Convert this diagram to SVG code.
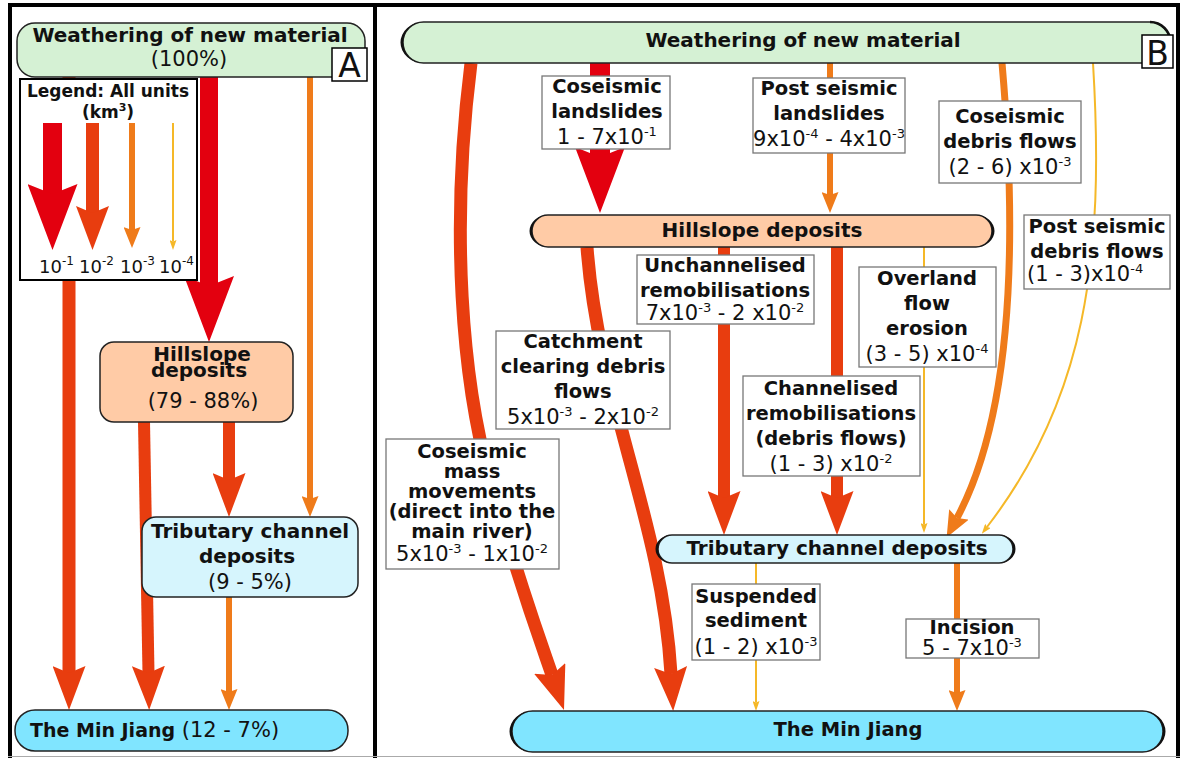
<svg xmlns="http://www.w3.org/2000/svg" width="1188" height="758" viewBox="0 0 1188 758">
<style>
text{font-family:"DejaVu Sans",Verdana,"Liberation Sans",sans-serif;fill:#111}
.b{font-weight:bold;font-size:20px}
.bl{font-weight:bold;font-size:19.5px}
.r{font-size:21px}
.m{text-anchor:middle}
.s{font-size:13px}
.lab{fill:#fff;stroke:#777;stroke-width:1.3}
.nd{stroke:#222;stroke-width:1.5}
.g{fill:#d5f1d4}
.p{fill:#ffcba6}
.t{fill:#d6f5fd}
.c{fill:#80e5ff}
.cr{fill:#111}
.red{stroke:#e3000f;fill:none}
.ro{stroke:#e83d0f;fill:none}
.or{stroke:#ef7b1a;fill:none}
.ye{stroke:#f5b828;fill:none}
.fr{stroke:#000;stroke-width:4;fill:none}
</style>
<defs>
<marker id="mR" markerUnits="userSpaceOnUse" viewBox="0 0 66 50" markerWidth="66" markerHeight="50" refX="10" refY="25" orient="auto"><path d="M0,0 L66,25 L0,50 L10,25Z" fill="#e3000f"/></marker>
<marker id="mRO" markerUnits="userSpaceOnUse" viewBox="0 0 44 33" markerWidth="44" markerHeight="33" refX="7" refY="16.5" orient="auto"><path d="M0,0 L44,16.5 L0,33 L7,16.5Z" fill="#e83d0f"/></marker>
<marker id="mO" markerUnits="userSpaceOnUse" viewBox="0 0 21 17" markerWidth="21" markerHeight="17" refX="3" refY="8.5" orient="auto"><path d="M0,0 L21,8.5 L0,17 L3,8.5Z" fill="#ef7b1a"/></marker>
<marker id="mOT" markerUnits="userSpaceOnUse" viewBox="0 0 26 22" markerWidth="26" markerHeight="22" refX="4" refY="11" orient="auto"><path d="M0,0 L26,11 L0,22 L4,11Z" fill="#ef7b1a"/></marker>
<marker id="mY" markerUnits="userSpaceOnUse" viewBox="0 0 10 7" markerWidth="10" markerHeight="7" refX="1.5" refY="3.5" orient="auto"><path d="M0,0 L10,3.5 L0,7 L1.5,3.5Z" fill="#f5b828"/></marker>
</defs>
<rect width="1188" height="758" fill="#fff"/>

<g id="connectors">
  <!-- Panel A -->
  <path class="red" stroke-width="18" d="M209,77 V286" marker-end="url(#mR)"/>
  <path class="ro" stroke-width="13" d="M69,77 V673" marker-end="url(#mRO)"/>
  <path class="ro" stroke-width="12" d="M144,422 L148.5,673" marker-end="url(#mRO)"/>
  <path class="ro" stroke-width="12" d="M229,422 V480" marker-end="url(#mRO)"/>
  <path class="or" stroke-width="6" d="M310,77 V499" marker-end="url(#mO)"/>
  <path class="or" stroke-width="6" d="M229,597 V692" marker-end="url(#mO)"/>
  <!-- Panel B -->
  <path class="red" stroke-width="20" d="M600,63 V157" marker-end="url(#mR)"/>
  <path class="or" stroke-width="6" d="M830,63 V195" marker-end="url(#mO)"/>
  <path class="or" stroke-width="7" d="M1002,63 C1014,200 1020,400 957,518" marker-end="url(#mOT)"/>
  <path class="ye" stroke-width="2" d="M1093,63 C1105,260 1085,400 987,527" marker-end="url(#mY)"/>
  <path class="ro" stroke-width="13" d="M471,63 C450,230 462,380 490,480 S540,640 552,675" marker-end="url(#mRO)"/>
  <path class="ro" stroke-width="13" d="M587,247 C598,400 662,520 671,674" marker-end="url(#mRO)"/>
  <path class="ro" stroke-width="12" d="M724,247 V498" marker-end="url(#mRO)"/>
  <path class="ro" stroke-width="12" d="M837,247 V498" marker-end="url(#mRO)"/>
  <path class="ye" stroke-width="2" d="M924,247 V524.5" marker-end="url(#mY)"/>
  <path class="ye" stroke-width="2" d="M756,563 V702.5" marker-end="url(#mY)"/>
  <path class="or" stroke-width="6" d="M957,563 V693" marker-end="url(#mO)"/>
</g>

<g id="frame">
  <path class="fr" d="M8,5 H1180"/>
  <path class="fr" d="M10,3 V758"/>
  <path class="fr" d="M375,3 V758"/>
  <path class="fr" d="M1178,3 V758"/>
  <path d="M8,756.5 H1180" stroke="#aaa" stroke-width="1"/>
</g>

<!-- Panel A nodes -->
<g id="a-weathering">
  <rect class="nd g" x="17" y="23" width="348" height="54" rx="18"/>
  <text class="b m" x="190" y="42">Weathering of new material</text>
  <text class="r m" x="189" y="66">(100%)</text>
</g>
<g id="a-label">
  <rect x="332" y="48" width="35" height="33" fill="#fff" stroke="#000" stroke-width="1.5"/>
  <text class="m" x="349.5" y="77" style="font-size:33px">A</text>
</g>
<g id="a-legend">
  <rect x="20" y="79" width="177" height="201" fill="#fff" stroke="#000" stroke-width="2"/>
  <text class="m" x="108" y="97" style="font-weight:bold;font-size:17px">Legend: All units</text>
  <text class="m" x="108" y="118" style="font-weight:bold;font-size:17px">(km<tspan dy="-7" style="font-size:11px">3</tspan><tspan dy="7">)</tspan></text>
  <path class="red" stroke-width="19" d="M52.5,123 V194" marker-end="url(#mR)"/>
  <path class="ro" stroke-width="13" d="M92.5,123 V213" marker-end="url(#mRO)"/>
  <path class="or" stroke-width="6" d="M132,123 V230" marker-end="url(#mO)"/>
  <path class="ye" stroke-width="2" d="M173,123 V241.5" marker-end="url(#mY)"/>
  <text x="39" y="273" style="font-size:18px">10<tspan dy="-8" style="font-size:12px">-1</tspan></text>
  <text x="79" y="273" style="font-size:18px">10<tspan dy="-8" style="font-size:12px">-2</tspan></text>
  <text x="120" y="273" style="font-size:18px">10<tspan dy="-8" style="font-size:12px">-3</tspan></text>
  <text x="159" y="273" style="font-size:18px">10<tspan dy="-8" style="font-size:12px">-4</tspan></text>
</g>
<g id="a-hillslope">
  <rect class="nd p" x="100" y="342" width="193" height="80" rx="14"/>
  <text class="b m" x="202" y="361">Hillslope</text>
  <text class="b m" x="199" y="377">deposits</text>
  <text class="r m" x="203" y="408">(79 - 88%)</text>
</g>
<g id="a-tributary">
  <rect class="nd t" x="142" y="517" width="216" height="80" rx="14"/>
  <text class="b m" x="250" y="538">Tributary channel</text>
  <text class="b m" x="247" y="563">deposits</text>
  <text class="r m" x="250" y="589">(9 - 5%)</text>
</g>
<g id="a-minjiang">
  <rect class="nd c" x="15" y="710" width="333" height="41" rx="20"/>
  <text x="30" y="737"><tspan style="font-weight:bold;font-size:19px">The Min Jiang</tspan><tspan class="r"> (12 - 7%)</tspan></text>
</g>

<!-- Panel B label boxes -->
<g id="b-coseismic-landslides">
  <rect class="lab" x="542" y="76" width="128" height="73"/>
  <text class="bl m" x="607" y="93">Coseismic</text>
  <text class="bl m" x="607" y="118">landslides</text>
  <text class="r m" x="607" y="144">1 - 7x10<tspan class="s" dy="-8">-1</tspan></text>
</g>
<g id="b-post-landslides">
  <rect class="lab" x="753" y="78" width="152" height="75"/>
  <text class="bl m" x="829" y="95">Post seismic</text>
  <text class="bl m" x="829" y="120">landslides</text>
  <text class="r m" x="829" y="146">9x10<tspan class="s" dy="-8">-4</tspan><tspan dy="8"> - 4x10</tspan><tspan class="s" dy="-8">-3</tspan></text>
</g>
<g id="b-coseismic-debris">
  <rect class="lab" x="939" y="101" width="142" height="82"/>
  <text class="bl m" x="1010" y="123">Coseismic</text>
  <text class="bl m" x="1010" y="148">debris flows</text>
  <text class="r m" x="1010" y="174">(2 - 6) x10<tspan class="s" dy="-8">-3</tspan></text>
</g>
<g id="b-post-debris">
  <rect class="lab" x="1024" y="215" width="146" height="74"/>
  <text class="bl m" x="1097" y="233">Post seismic</text>
  <text class="bl m" x="1097" y="258">debris flows</text>
  <text class="r" x="1027" y="281">(1 - 3)x10<tspan class="s" dy="-8">-4</tspan></text>
</g>
<g id="b-unchannelised">
  <rect class="lab" x="637" y="255" width="177" height="69"/>
  <text class="bl m" x="725" y="272">Unchannelised</text>
  <text class="bl m" x="725" y="297">remobilisations</text>
  <text class="r m" x="725" y="320">7x10<tspan class="s" dy="-8">-3</tspan><tspan dy="8"> - 2 x10</tspan><tspan class="s" dy="-8">-2</tspan></text>
</g>
<g id="b-overland">
  <rect class="lab" x="859" y="267" width="137" height="100"/>
  <text class="bl m" x="927" y="285">Overland</text>
  <text class="bl m" x="927" y="310">flow</text>
  <text class="bl m" x="927" y="335">erosion</text>
  <text class="r m" x="927" y="361">(3 - 5) x10<tspan class="s" dy="-8">-4</tspan></text>
</g>
<g id="b-catchment">
  <rect class="lab" x="496" y="331" width="174" height="98"/>
  <text class="bl m" x="583" y="348">Catchment</text>
  <text class="bl m" x="583" y="373">clearing debris</text>
  <text class="bl m" x="583" y="398">flows</text>
  <text class="r m" x="583" y="424">5x10<tspan class="s" dy="-8">-3</tspan><tspan dy="8"> - 2x10</tspan><tspan class="s" dy="-8">-2</tspan></text>
</g>
<g id="b-channelised">
  <rect class="lab" x="743" y="376" width="177" height="100"/>
  <text class="bl m" x="831" y="395">Channelised</text>
  <text class="bl m" x="831" y="420">remobilisations</text>
  <text class="bl m" x="831" y="445">(debris flows)</text>
  <text class="r m" x="831" y="471">(1 - 3) x10<tspan class="s" dy="-8">-2</tspan></text>
</g>
<g id="b-mass-movements">
  <rect class="lab" x="386" y="439" width="173" height="130"/>
  <text class="bl m" x="472" y="458">Coseismic</text>
  <text class="bl m" x="472" y="478">mass</text>
  <text class="bl m" x="472" y="498">movements</text>
  <text class="bl m" x="472" y="518">(direct into the</text>
  <text class="bl m" x="472" y="538">main river)</text>
  <text class="r m" x="472" y="561">5x10<tspan class="s" dy="-8">-3</tspan><tspan dy="8"> - 1x10</tspan><tspan class="s" dy="-8">-2</tspan></text>
</g>
<g id="b-suspended">
  <rect class="lab" x="692" y="584" width="128" height="76"/>
  <text class="bl m" x="756" y="603">Suspended</text>
  <text class="bl m" x="756" y="627">sediment</text>
  <text class="r m" x="756" y="654">(1 - 2) x10<tspan class="s" dy="-8">-3</tspan></text>
</g>
<g id="b-incision">
  <rect class="lab" x="906" y="619" width="133" height="39"/>
  <text class="bl m" x="972" y="634">Incision</text>
  <text class="r m" x="972" y="655">5 - 7x10<tspan class="s" dy="-8">-3</tspan></text>
</g>

<!-- Panel B nodes -->
<g id="b-weathering">
  <rect class="nd g" x="403" y="22" width="767" height="41" rx="20.5"/>
  <path class="cr" d="M423.5,22 A23,20.5 0 0 0 423.5,63 A20.5,20.5 0 0 1 423.5,22Z"/>
  <path d="M1150,22 A20.5,20.5 0 0 1 1170.5,42.5" fill="none" stroke="#111" stroke-width="2.5"/>
  <text class="b m" x="803" y="47">Weathering of new material</text>
</g>
<g id="b-label">
  <rect x="1142" y="35" width="31" height="33" fill="#fff" stroke="#000" stroke-width="1.5"/>
  <text class="m" x="1157.5" y="65" style="font-size:33px">B</text>
</g>
<g id="b-hillslope">
  <rect class="nd p" x="532" y="215" width="460" height="32" rx="16"/>
  <path class="cr" d="M548,215 A18.5,16 0 0 0 548,247 A16,16 0 0 1 548,215Z"/>
  <path class="cr" d="M976,215 A18.5,16 0 0 1 976,247 A16,16 0 0 0 976,215Z"/>
  <text class="b m" x="762" y="237">Hillslope deposits</text>
</g>
<g id="b-tributary">
  <rect class="nd t" x="658" y="535" width="355" height="28" rx="14"/>
  <path class="cr" d="M672,535 A16.5,14 0 0 0 672,563 A14,14 0 0 1 672,535Z"/>
  <path class="cr" d="M999,535 A16.5,14 0 0 1 999,563 A14,14 0 0 0 999,535Z"/>
  <text class="b m" x="837" y="555">Tributary channel deposits</text>
</g>
<g id="b-minjiang">
  <rect class="nd c" x="512" y="711" width="651" height="41" rx="20.5"/>
  <path class="cr" d="M532.5,711 A23,20.5 0 0 0 532.5,752 A20.5,20.5 0 0 1 532.5,711Z"/>
  <path class="cr" d="M1142.5,711 A23,20.5 0 0 1 1142.5,752 A20.5,20.5 0 0 0 1142.5,711Z"/>
  <text class="m" x="848" y="736" style="font-weight:bold;font-size:19.5px">The Min Jiang</text>
</g>
</svg>
